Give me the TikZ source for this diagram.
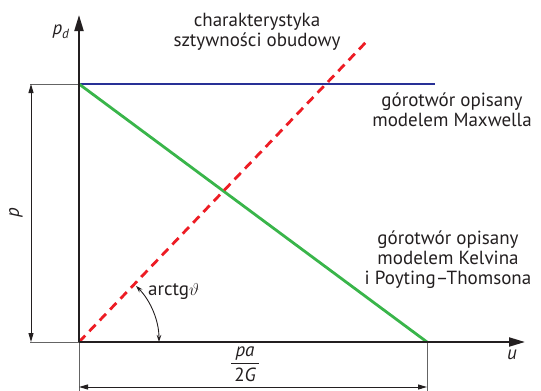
\documentclass[tikz,border=0pt]{standalone}
\usepackage{fontspec}
\setmainfont{PT Sans}
\usetikzlibrary{arrows.meta}
\definecolor{cblue}{RGB}{40,48,150}
\definecolor{cgreen}{RGB}{57,181,74}
\definecolor{cred}{RGB}{237,28,36}
\definecolor{cdark}{RGB}{35,31,32}
\definecolor{cgray}{RGB}{100,100,100}
\tikzset{
  axis/.style={line width=2pt, draw=cdark, -{Triangle[length=16pt,width=9pt]}},
  thin gray/.style={line width=0.9pt, draw=cgray},
  dimline/.style={line width=0.9pt, draw=cdark, {Triangle[length=9pt,width=5pt]}-{Triangle[length=9pt,width=5pt]}},
  curve/.style={line width=2.8pt},
  lbl/.style={font=\fontsize{19}{20}\selectfont, text=cdark, align=center, inner sep=0pt},
}
\begin{document}
\begin{tikzpicture}[x=1pt,y=-1pt]
\useasboundingbox (0,0) rectangle (541,391);
% key points
\coordinate (O) at (79,342);
\coordinate (Ytop) at (79,15);
\coordinate (Xend) at (525,342);
\coordinate (P) at (79,84);
\coordinate (Bend) at (435,84);
\coordinate (G) at (427,342);
\coordinate (Rend) at (368,40);
\coordinate (TLa) at (30,84);
\coordinate (TLb) at (30,342);
\coordinate (DLa) at (31,84);
\coordinate (DLb) at (31,342);
\coordinate (Ob) at (79,391);
\coordinate (Gb) at (427,391);
\coordinate (DBa) at (79,387);
\coordinate (DBb) at (427,387);
% thin extension lines
\draw[thin gray] (TLa) -- (P);
\draw[thin gray] (TLb) -- (O);
\draw[thin gray] (O) -- (Ob);
\draw[thin gray] (G) -- (Gb);
% dimension lines
\draw[dimline] (DLa) -- (DLb);
\draw[dimline] (DBa) -- (DBb);
% curves
\draw[curve, draw=cblue] (P) -- (Bend);
\draw[curve, draw=cgreen] (P) -- (G);
\draw[curve, draw=cred, dash pattern=on 9pt off 6pt] (O) -- (Rend);
% axes
\draw[axis] (O) -- (Ytop);
\draw[axis] (O) -- (Xend);
% angle arc
\draw[line width=0.9pt, draw=cdark, {Stealth[length=7pt,width=4.5pt]}-{Stealth[length=7pt,width=4.5pt]}]
  ([shift={(0:80)}]O) arc[start angle=0, end angle=-44.5, radius=80];
% labels
\node[lbl] (pd) at (61,32) {\itshape p\textsubscript{d}};
\node[lbl, rotate=90] (plab) at (16,213) {\itshape p};
\node[lbl] (ulab) at (512,355) {\itshape u};
\node[lbl, anchor=west] (arc) at (148,292) {arctg$\vartheta$};
\node[lbl] (frac) at (245,364) {$\displaystyle{\,\hbox{\itshape pa}\, \above 1.1pt \,\hbox{2\itshape G}\,}$};
\node[lbl] (char) at (257,32) {charakterystyka\\sztywności obudowy};
\node[lbl] (maxw) at (452,110) {górotwór opisany\\modelem Maxwella};
\node[lbl] (kelv) at (448,260) {górotwór opisany\\modelem Kelvina\\i Poyting–Thomsona};
\end{tikzpicture}
\end{document}
